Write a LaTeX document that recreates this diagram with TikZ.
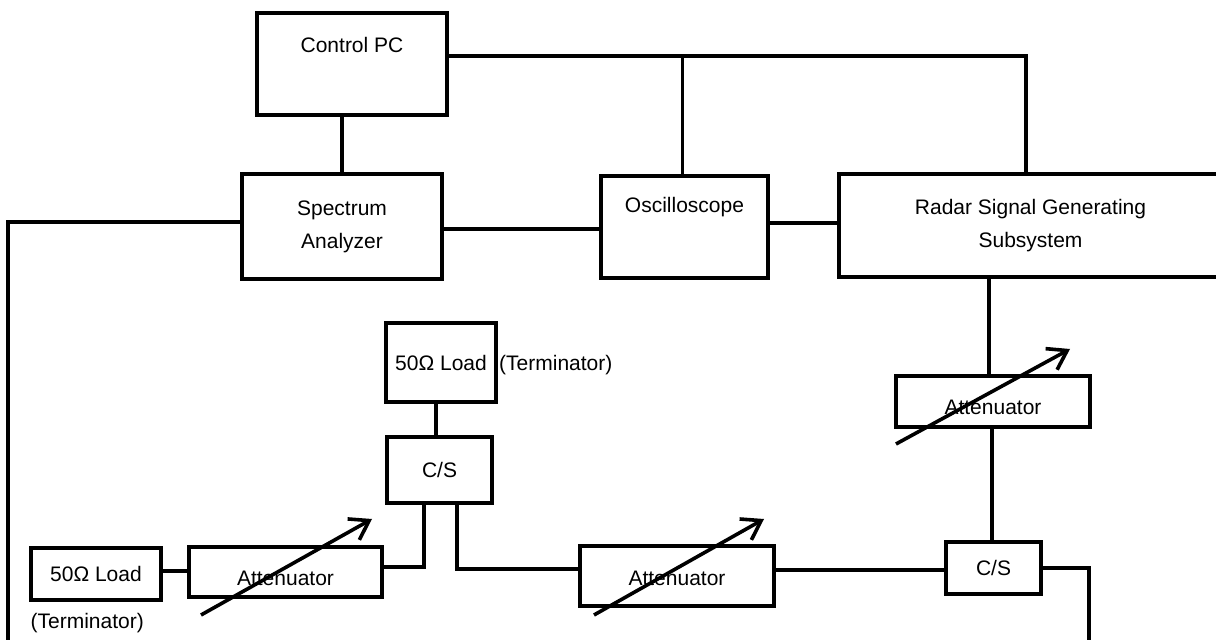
\documentclass[tikz,border=0pt]{standalone}
\usepackage{fontspec}
\setmainfont{Liberation Sans}
\usetikzlibrary{positioning,calc,arrows.meta}

\begin{document}
\begin{tikzpicture}[
    x=0.5pt, y=-0.5pt,
    font=\fontsize{10.5}{16.5}\selectfont,
    unit/.style={rectangle, draw, line width=1.8pt, inner sep=0pt, align=center},
    wire/.style={line width=1.8pt},
    tune/.style={-{Straight Barb[length=9pt,width=12pt]}, line width=1.8pt}
]
\useasboundingbox (0,0) rectangle (1216,640);

% Instruments
\node[unit, minimum width=95pt, minimum height=51pt, label={[yshift=9.5pt]center:Control PC}] (pc) at (352,64) {};
\node[unit, minimum width=100pt, minimum height=52.5pt] (sa) at (342,226.5) {Spectrum\\Analyzer};
\node[unit, minimum width=83.5pt, minimum height=51pt, label={[yshift=10pt]center:Oscilloscope}] (osc) at (684.5,227) {};
\node[unit, minimum width=191.5pt, minimum height=51.5pt] (radar) at (1030.5,225.5) {Radar Signal Generating\\Subsystem};

% RF chain
\node[unit, minimum width=97pt, minimum height=25.5pt, label={[yshift=-2.75pt]center:Attenuator}] (attR) at (993,401.5) {};
\node[unit, minimum width=47.5pt, minimum height=26pt] (csR) at (993.5,568) {C/S};
\node[unit, minimum width=55pt, minimum height=39.5pt, label={[inner sep=0.5pt, anchor=west, yshift=-1.5pt]east:(Terminator)}] (loadT) at (441,362.5) {50Ω Load};
\node[unit, minimum width=52.5pt, minimum height=33pt] (csT) at (439.5,470) {C/S};
\node[unit, minimum width=96.5pt, minimum height=25pt, label={[yshift=-3pt]center:Attenuator}] (attL) at (285.5,572) {};
\node[unit, minimum width=97pt, minimum height=30pt, label={[yshift=-1pt]center:Attenuator}] (attM) at (677,576) {};
\node[unit, minimum width=65pt, minimum height=26pt, label={[inner sep=0.5pt, anchor=north west, yshift=-5pt]south west:(Terminator)}] (loadL) at (96,574) {50Ω Load};

% Free ends and bus corner
\coordinate (bus) at (1026,56);
\coordinate (leftend) at (8,645);
\coordinate (rightend) at (1089,645);

% Connections
\draw[wire] (sa.north) -- (sa.north |- pc.south);
\draw[wire] (pc.east |- bus) -- (bus) -- (bus |- radar.north);
\draw[wire] ([xshift=-1pt]osc.north) -- ([xshift=-1pt]osc.north |- bus);
\draw[wire] ([yshift=-1.25pt]sa.east) -- ([yshift=-1.25pt]sa.east -| osc.west);
\draw[wire] ([yshift=2pt]osc.east) -- ([yshift=2pt]osc.east -| radar.west);
\draw[wire] ([yshift=2.25pt]sa.west) -| (leftend);
\draw[wire] ([xshift=-2pt]attR.north) -- ([xshift=-2pt]attR.north |- radar.south);
\draw[wire] ([xshift=-0.5pt]attR.south) -- ([xshift=-0.5pt]attR.south |- csR.north);
\draw[wire] (csR.east) -| (rightend);
\draw[wire] ([yshift=-1pt]csR.west) -- ([yshift=-1pt]csR.west -| attM.east);
\draw[wire] ([xshift=-2.5pt]loadT.south) -- ([xshift=-2.5pt]loadT.south |- csT.north);
\draw[wire] ([xshift=-7.75pt]csT.south) |- ([yshift=2.5pt]attL.east);
\draw[wire] ([xshift=8.75pt]csT.south) |- ([yshift=3.5pt]attM.west);
\draw[wire] ([yshift=1.5pt]loadL.east) -- ([yshift=1.5pt]loadL.east -| attL.west);

% Variable attenuator arrows
\draw[tune] ($(attL.center)+(-84.5,43)$) -- ++(171,-96);
\draw[tune] ($(attM.center)+(-83,39)$) -- ++(170,-96);
\draw[tune] ($(attR.center)+(-97,42.5)$) -- ++(174,-95);

\end{tikzpicture}
\end{document}
